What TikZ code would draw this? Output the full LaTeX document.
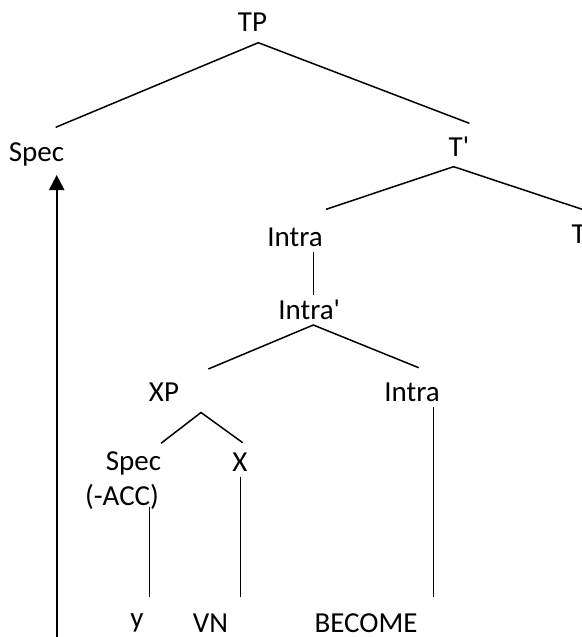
\documentclass[tikz,border=0pt]{standalone}
\usepackage{fontspec}
\setmainfont{Carlito}[Ligatures=TeXOff]
\usetikzlibrary{arrows.meta}
\begin{document}
\begin{tikzpicture}[x=1bp,y=-1bp,
  lbl/.style={inner sep=0pt, anchor=base, text=black, font=\fontsize{29bp}{34bp}\selectfont},
  leaf/.style={lbl, text depth=0pt},
  branch/.style={line width=1.5bp, black},
  move/.style={line width=2.2bp, black, -{Triangle[length=15bp,width=15bp]}}]
\useasboundingbox (0,0) rectangle (582,637);
% labels
\node[lbl] (tp) at (252.5,31.7) {TP};
\node[lbl] (spec) at (36.5,161.7) {Spec};
\node[lbl] (tbar) at (459,156.7) {T'};
\node[lbl] (intra) at (295,246.7) {Intra};
\node[lbl, anchor=base west] (t) at (571.5,243.3) {T};
\node[lbl] (intrabar) at (309.2,319.3) {Intra'};
\node[lbl] (xp) at (164,401.5) {XP};
\node[lbl] (intraii) at (412,401.5) {Intra};
\node[lbl] (specb) at (133.5,470.7) {Spec};
\node[lbl] (acc) at (122,505) {(-ACC)};
\node[lbl] (x) at (240,471.7) {X};
\node[leaf] (y) at (137,627) {y};
\node[leaf] (vn) at (210.5,632) {VN};
\node[leaf] (become) at (366,632) {BECOME};
% branch end points
\coordinate (tpA) at (258.3,42.7);
\coordinate (specT) at (55.7,127.3);
\coordinate (tbarT) at (469.3,123.3);
\coordinate (tbarA) at (453.7,166.7);
\coordinate (intraT) at (326,209.3);
\coordinate (tT) at (583,209.6);
\coordinate (intraB) at (313.3,251.7);
\coordinate (intrabarT) at (313.3,295);
\coordinate (intrabarA) at (313.3,325);
\coordinate (xpT) at (208.3,369);
\coordinate (intraiiT) at (418.7,367.7);
\coordinate (xpA) at (201,412.5);
\coordinate (specbT) at (161,443.3);
\coordinate (xT) at (242.7,442.7);
\coordinate (accB) at (149.3,506.7);
\coordinate (yT) at (149.3,596.7);
\coordinate (xB) at (240.7,476.7);
\coordinate (vnT) at (240.7,596.7);
\coordinate (intraiiB) at (433.7,406.7);
\coordinate (becomeT) at (433.7,596.7);
\coordinate (moveS) at (56.7,640);
\coordinate (specB) at (56.7,175);
% branches
\draw[branch] (specT) -- (tpA) -- (tbarT);
\draw[branch] (intraT) -- (tbarA) -- (tT);
\draw[branch] (intraB) -- (intrabarT);
\draw[branch] (xpT) -- (intrabarA) -- (intraiiT);
\draw[branch] (specbT) -- (xpA) -- (xT);
\draw[branch] (accB) -- (yT);
\draw[branch] (xB) -- (vnT);
\draw[branch] (intraiiB) -- (becomeT);
% movement arrow
\draw[move] (moveS) -- (specB);
\end{tikzpicture}
\end{document}
